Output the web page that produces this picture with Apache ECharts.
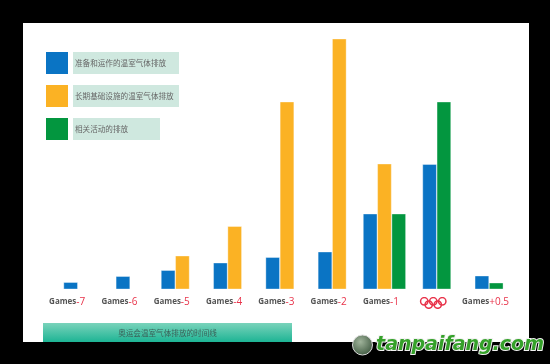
<!DOCTYPE html>
<html>
<head>
<meta charset="utf-8">
<script src="https://cdn.jsdelivr.net/npm/echarts@6/dist/echarts.min.js"></script>
<style>html,body{margin:0;padding:0;background:#000;}#c{width:550px;height:364px;}</style>
</head>
<body>
<div id="c"></div>
<script>
// ---- data ----
const categories = ['Games-7', 'Games-6', 'Games-5', 'Games-4', 'Games-3', 'Games-2', 'Games-1', 'Olympics', 'Games+0.5'];
const seriesNames = ['准备和运作的温室气体排放', '长期基础设施的温室气体排放', '相关活动的排放'];
const prepOps = [6.5, 12.5, 18.5, 26, 31.5, 37, 75, 124.5, 13];
const infrastructure = [null, null, 33, 62.5, 187, 250, 125, null, null];
const related = [null, null, null, null, null, null, 75, 187, 6];
const footerText = '奥运会温室气体排放的时间线';
const watermark = 'tanpaifang.com';

const allSeries = [prepOps, infrastructure, related];
const colors = ['#0a74c4', '#fbb224', '#03963f'];

const ringsSvg = "<svg xmlns='http://www.w3.org/2000/svg' width='28' height='12' viewBox='0 0 28 12'><g fill='none' stroke='#e8334a' stroke-width='1.5'><circle cx='5' cy='4.3' r='3.7'/><circle cx='14' cy='4.3' r='3.7'/><circle cx='23' cy='4.3' r='3.7'/><circle cx='9.5' cy='7.6' r='3.7'/><circle cx='18.5' cy='7.6' r='3.7'/></g></svg>";
const ringsUri = 'data:image/svg+xml;charset=utf-8,' + encodeURIComponent(ringsSvg);

function makeRender(si) {
  return function (params, api) {
    const ci = api.value(0), v = api.value(1);
    const present = allSeries.map(a => a[ci] != null);
    const n = present.filter(Boolean).length;
    let k = 0;
    for (let j = 0; j < si; j++) if (present[j]) k++;
    const base = api.coord([ci, 0]);
    const top = api.coord([ci, v]);
    const pitch = 14.3, w = 13.7;
    const cx = base[0] + (k - (n - 1) / 2) * pitch;
    return {
      type: 'rect',
      shape: { x: cx - w / 2, y: top[1], width: w, height: base[1] - top[1] },
      style: { fill: colors[si], stroke: 'rgba(255,255,255,0.35)', lineWidth: 1 }
    };
  };
}

const chart = echarts.init(document.getElementById('c'), null, { renderer: 'canvas' });
const legendWidths = [104, 104, 85];
const rich = {};
seriesNames.forEach((n, i) => {
  rich['t' + i] = {
    width: legendWidths[i], height: 22, lineHeight: 22,
    backgroundColor: '#cfe8df', padding: [0, 0, 0, 2],
    fontSize: 7.6, color: '#666', fontFamily: 'Noto Sans CJK SC'
  };
});

chart.setOption({
  backgroundColor: '#000',
  animation: false,
  graphic: [
    { type: 'rect', z: -10, shape: { x: 23, y: 23, width: 506, height: 319 }, style: { fill: '#fff' } },
    { type: 'rect', z: -9, shape: { x: 43, y: 323, width: 249, height: 19 },
      style: { fill: new echarts.graphic.LinearGradient(0, 0, 0, 1, [{ offset: 0, color: '#7ad3bb' }, { offset: 1, color: '#1db494' }]) } },
    { type: 'text', z: -8, x: 167.5, y: 333,
      style: { text: footerText, fill: '#3a6259', fontSize: 7.6, fontFamily: 'Noto Sans CJK SC', align: 'center', verticalAlign: 'middle' } },
    { type: 'circle', z: -8, shape: { cx: 362.5, cy: 345, r: 10 },
      style: { fill: new echarts.graphic.RadialGradient(0.4, 0.35, 0.8, [{ offset: 0, color: '#9fb39a' }, { offset: 1, color: '#2f4a32' }]), stroke: '#ddd', lineWidth: 1 } },
    { type: 'text', z: -8, x: 460, y: 345,
      style: { text: watermark, fill: '#35a12a', stroke: '#f2f2f2', lineWidth: 2, fontSize: 19, fontWeight: 'bold', fontStyle: 'italic', fontFamily: 'DejaVu Sans', align: 'center', verticalAlign: 'middle' } }
  ],
  legend: {
    orient: 'vertical', left: 46, top: 52, padding: 0,
    itemWidth: 22, itemHeight: 22, itemGap: 11,
    selectedMode: false,
    icon: 'rect',
    data: seriesNames,
    formatter: name => '{t' + seriesNames.indexOf(name) + '|' + name + '}',
    textStyle: { rich: rich }
  },
  grid: { left: 44.5, right: 34.8, top: 29, bottom: 75, containLabel: false },
  xAxis: {
    type: 'category', data: categories,
    axisLine: { show: false }, axisTick: { show: false }, splitLine: { show: false },
    axisLabel: {
      interval: 0, margin: 8, padding: [0, 7, 0, 0],
      formatter: v => v === 'Olympics' ? '{rings| }' : '{g|Games}{n|' + v.slice(5) + '}',
      rich: {
        g: { fontSize: 8, fontWeight: 'bold', color: '#555', fontFamily: 'Open Sans' },
        n: { fontSize: 10, color: '#e8334a', fontFamily: 'Open Sans' },
        rings: { width: 28, height: 12, backgroundColor: { image: ringsUri } }
      }
    }
  },
  yAxis: { type: 'value', min: 0, max: 260, show: false, splitLine: { show: false } },
  series: allSeries.map((arr, si) => ({
    type: 'custom',
    name: seriesNames[si],
    itemStyle: { color: colors[si] },
    renderItem: makeRender(si),
    encode: { x: 0, y: 1 },
    data: arr.map((v, i) => [i, v]).filter(d => d[1] != null)
  }))
});
</script>
</body>
</html>
